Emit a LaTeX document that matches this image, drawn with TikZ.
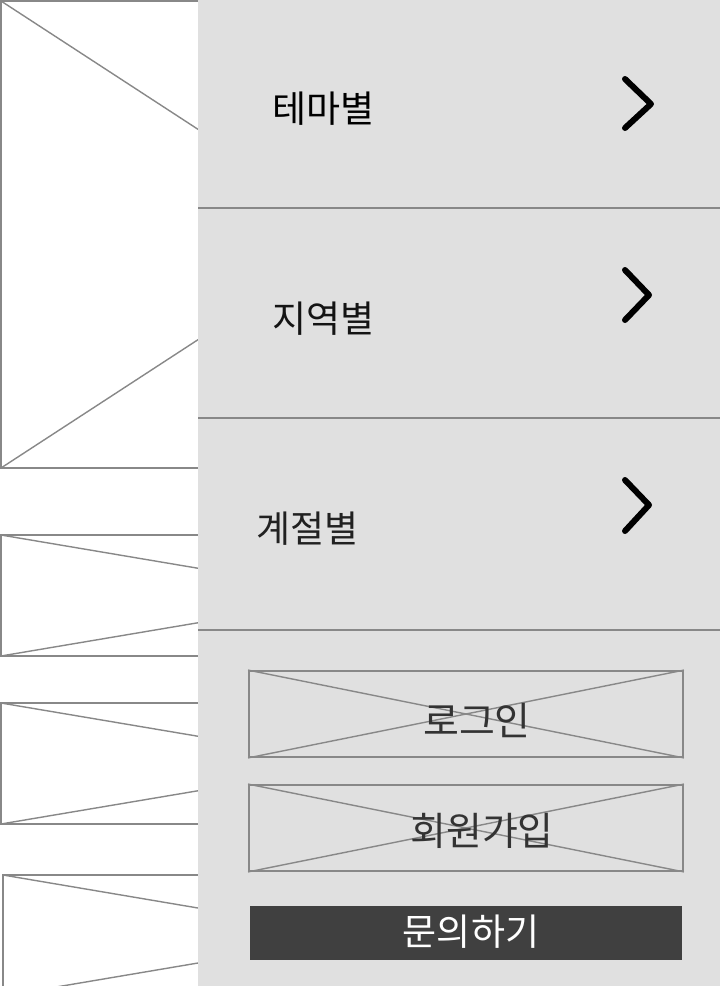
\documentclass[tikz,border=0pt]{standalone}
\usepackage{fontspec}
\newfontfamily\kr{Noto Sans CJK KR}
\definecolor{panel}{HTML}{E0E0E0}
\definecolor{wire}{HTML}{888888}
\definecolor{darkbtn}{HTML}{404040}
\definecolor{btntext}{HTML}{333333}
\tikzset{
  imgbox/.style={draw=wire, line width=1.8pt, fill=white},
  xline/.style={draw=wire, line width=1.4pt},
  sepline/.style={draw=wire, line width=1.8pt},
  menulabel/.style={anchor=west, inner sep=0pt, font=\kr\fontsize{37}{40}\selectfont},
  chev/.style={draw=black, line width=6pt, line cap=round, line join=round},
  wirebtn/.style={draw=wire, line width=1.8pt, fill=panel, minimum width=434pt, minimum height=86pt, inner sep=0pt},
  btnlabel/.style={inner sep=0pt, text=btntext, font=\kr\fontsize{39}{42}\selectfont},
  darkbutton/.style={fill=darkbtn, minimum width=432pt, minimum height=54pt, inner sep=0pt},
  darklabel/.style={inner sep=0pt, text=white, font=\kr\fontsize{37}{40}\selectfont}
}
\begin{document}
\begin{tikzpicture}[x=1pt,y=-1pt]
\useasboundingbox (0,0) rectangle (720,986);
\clip (0,0) rectangle (720,986);
% left image placeholders
\foreach \t/\b/\l in {1/468/1, 535/656/1, 703/824/1, 875/996/3}{
  \draw[imgbox] (\l,\t) rectangle (718,\b);
  \draw[xline] (\l,\t) -- (718,\b);
  \draw[xline] (\l,\b) -- (718,\t);
}
% side panel
\fill[panel] (198,0) rectangle (720,986);
\draw[sepline] (198,208) -- (720,208);
\draw[sepline] (198,418) -- (720,418);
\draw[sepline] (198,630) -- (720,630);
% menu labels
\node[menulabel, text=black] (theme) at (272,109) {테마별};
\node[menulabel, text=black!92] (region) at (272,319) {지역별};
\node[menulabel, text=black!87] (season) at (256,529) {계절별};
% chevrons
\draw[chev] (625,79) -- (651,104) -- (625,128);
\draw[chev] (625,270) -- (649,295) -- (625,320);
\draw[chev] (625,480) -- (649,505) -- (625,531);
% buttons
\node[wirebtn] (login) at (466,714) {};
\draw[xline] (login.north west) -- (login.south east);
\draw[xline] (login.south west) -- (login.north east);
\node[btnlabel] (logintext) at (477,721) {로그인};
\node[wirebtn] (join) at (466,828) {};
\draw[xline] (join.north west) -- (join.south east);
\draw[xline] (join.south west) -- (join.north east);
\node[btnlabel] (jointext) at (482,831) {회원가입};
\node[darkbutton] (ask) at (466,933) {};
\node[darklabel] (asktext) at (471,932) {문의하기};
\end{tikzpicture}
\end{document}
